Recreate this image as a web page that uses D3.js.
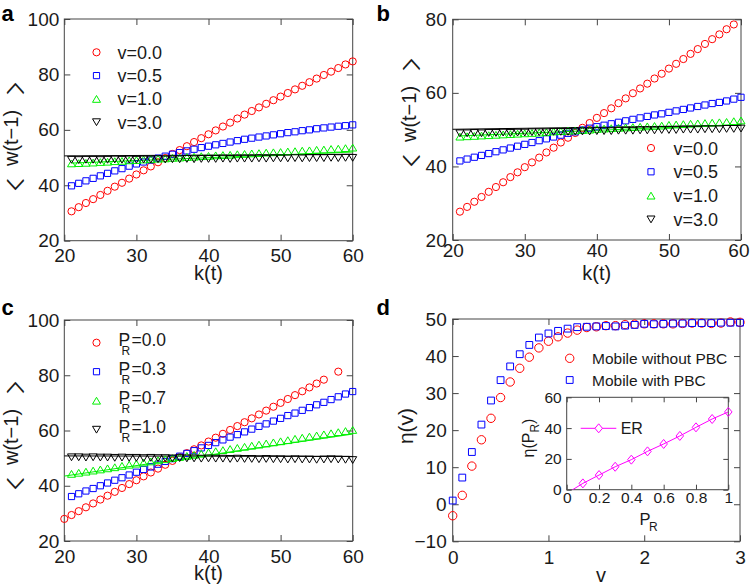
<!DOCTYPE html>
<html><head><meta charset="utf-8">
<script src="https://cdn.jsdelivr.net/npm/d3@7"></script>
<style>body{margin:0;background:#fff}</style>
</head><body>
<svg id="chart" width="750" height="588" xmlns="http://www.w3.org/2000/svg"></svg>
<script>
// ---------------- DATA ----------------
const kA = d3.range(21, 61);
const aV00 = [30.6,32.1,33.6,35.0,36.5,38.0,39.5,40.9,42.4,43.9,45.4,46.8,48.3,49.8,51.3,52.7,54.1,55.6,57.0,58.4,59.8,61.2,62.6,64.1,65.5,66.8,68.1,69.4,70.7,72.0,73.3,74.6,75.9,77.2,78.5,79.8,81.0,82.3,83.6,84.7];
const aV05 = [39.8,40.7,41.6,42.5,43.4,44.3,45.2,46.0,46.9,47.7,48.4,49.1,49.8,50.5,51.2,51.8,52.4,53.0,53.6,54.1,54.6,55.1,55.6,56.1,56.6,57.0,57.4,57.8,58.2,58.6,59.0,59.3,59.7,60.0,60.4,60.7,61.0,61.3,61.5,61.8];
const aV10 = [47.9,48.0,48.1,48.2,48.4,48.5,48.7,48.8,49.0,49.1,49.3,49.4,49.6,49.7,49.9,50.0,50.2,50.3,50.5,50.6,50.8,50.9,51.0,51.2,51.3,51.5,51.6,51.8,51.9,52.0,52.2,52.3,52.5,52.6,52.8,52.9,53.1,53.2,53.4,53.6];
const aV30 = [49.2,49.1,49.2,49.2,49.1,49.2,49.3,49.2,49.3,49.2,49.3,49.3,49.4,49.3,49.4,49.4,49.5,49.4,49.5,49.5,49.5,49.6,49.5,49.6,49.6,49.6,49.7,49.6,49.7,49.7,49.7,49.8,49.7,49.8,49.8,49.8,49.9,49.8,49.9,49.9];
const aFitK = [20, 60];
const aFit30 = [50.6, 51.2];
const aFitK10 = [21, 60];
const aFit10 = [48.0, 52.0];

const kB = d3.range(21, 61);
const kB00 = d3.range(21, 60);
const bV00 = [27.7,29.0,30.4,31.7,33.1,34.4,35.7,37.1,38.4,39.8,41.1,42.4,43.8,45.1,46.5,47.8,49.1,50.5,51.8,53.2,54.5,55.8,57.2,58.5,59.9,61.2,62.5,63.9,65.2,66.6,67.9,69.2,70.6,71.9,73.3,74.6,75.9,77.3,78.6];
const bV05 = [41.5,42.0,42.5,43.0,43.5,44.0,44.5,45.0,45.5,46.0,46.5,47.0,47.5,48.0,48.5,49.0,49.4,49.9,50.4,50.8,51.2,51.6,52.0,52.4,52.8,53.2,53.6,54.0,54.3,54.7,55.1,55.5,55.9,56.3,56.7,57.1,57.4,57.8,58.3,58.8];
const bV10 = [48.1,48.2,48.3,48.4,48.5,48.6,48.7,48.8,48.9,49.0,49.1,49.2,49.3,49.5,49.6,49.7,49.8,49.9,50.0,50.2,50.3,50.4,50.5,50.6,50.7,50.8,50.9,51.0,51.1,51.3,51.4,51.5,51.6,51.7,51.8,51.9,52.0,52.1,52.3,52.5];
const bV30 = [49.0,49.0,49.1,49.0,49.1,49.1,49.2,49.1,49.2,49.2,49.3,49.3,49.3,49.4,49.4,49.4,49.5,49.5,49.5,49.6,49.6,49.6,49.7,49.7,49.7,49.8,49.8,49.8,49.9,49.9,49.9,50.0,50.0,50.0,50.1,50.1,50.1,50.2,50.2,50.3];
const bFitK = [20, 60];
const bFit30 = [50.1, 51.2];
const bFitK10 = [21, 60];
const bFit10 = [48.3, 51.4];

const kC00 = [20,21,22,23,24,25,26,27,28,29,30,31,32,33,34,35,36,37,38,39,40,41,42,43,44,45,46,47,48,49,50,51,52,53,54,55,56,58];
const cP00 = [28.0,29.4,30.8,32.2,33.6,35.0,36.4,37.8,39.2,40.6,42.0,43.4,44.8,46.2,47.6,49.0,50.4,51.8,53.2,54.6,56.0,57.4,58.8,60.2,61.6,63.0,64.4,65.8,67.2,68.6,70.0,71.4,72.8,74.2,75.6,77.0,78.4,81.3];
const kC = d3.range(21, 61);
const cP03 = [36.1,37.1,38.1,39.0,40.0,41.0,42.0,42.9,43.9,44.9,45.9,46.8,47.8,48.8,49.8,50.7,51.7,52.7,53.7,54.6,55.6,56.6,57.6,58.5,59.5,60.5,61.5,62.4,63.4,64.4,65.4,66.3,67.3,68.3,69.3,70.2,71.2,72.2,73.2,74.1];
const cP07 = [44.3,44.7,45.1,45.5,45.9,46.3,46.7,47.2,47.6,48.0,48.4,48.8,49.2,49.6,50.0,50.4,50.8,51.2,51.6,52.1,52.5,52.9,53.3,53.7,54.1,54.5,54.9,55.3,55.7,56.1,56.5,57.0,57.4,57.8,58.2,58.6,59.0,59.4,59.8,60.2];
const cP10 = [50.3,50.3,50.2,50.3,50.2,50.2,50.1,50.2,50.1,50.1,50.0,50.1,50.0,50.0,49.9,50.0,49.9,49.9,49.8,49.9,49.8,49.8,49.7,49.8,49.7,49.7,49.6,49.7,49.6,49.6,49.5,49.6,49.5,49.5,49.4,49.5,49.6,49.5,49.4,49.3];
const cFitK = [20, 60];
const cFit10 = [50.8, 50.6];
const cFit07 = [43.5, 58.7];

const vD = [0,0.1,0.2,0.3,0.4,0.5,0.6,0.7,0.8,0.9,1.0,1.1,1.2,1.3,1.4,1.5,1.6,1.7,1.8,1.9,2.0,2.1,2.2,2.3,2.4,2.5,2.6,2.7,2.8,2.9,3.0];
const dNoPBC = [-3.1,2.4,10.3,17.4,23.2,28.8,33.0,36.7,39.7,42.2,44.0,45.2,46.2,47.0,47.7,47.9,48.2,48.2,48.5,48.6,48.7,48.7,48.7,48.7,48.8,48.9,48.9,48.8,48.9,49.2,49.1];
const dPBC = [1.0,7.2,14.1,21.5,28.0,33.5,37.2,40.5,43.0,45.0,46.1,46.8,47.4,47.8,47.9,48.0,48.1,48.0,48.2,48.4,48.7,48.6,48.7,48.8,48.8,48.9,48.9,48.9,49.0,49.0,49.0];

const pInset = [0,0.1,0.2,0.3,0.4,0.5,0.6,0.7,0.8,0.9,1.0];
const erInset = [-2.4,4.1,9.5,14.9,19.5,24.9,29.7,34.9,40.5,45.9,50.5];

const legAB = ['v=0.0','v=0.5','v=1.0','v=3.0'];
const legC = ['0.0','0.3','0.7','1.0'];
const legD = ['Mobile without PBC','Mobile with PBC'];

// ---------------- STYLE ----------------
const FONT = 'Liberation Sans, Arial, Helvetica, sans-serif';
const FRAME = '#444';
const RED = '#ff0000', BLUE = '#0000ff', GREEN = '#00f000', BLACK = '#000', MAG = '#ff00ff';
const TICKF = 19;

const svg = d3.select('#chart');

function shapePath(type, s) {
  if (type === 'circle') { const r = s.r; return `M${-r},0A${r},${r} 0 1,0 ${r},0A${r},${r} 0 1,0 ${-r},0Z`; }
  if (type === 'square') { const h = s.a/2; return `M${-h},${-h}H${h}V${h}H${-h}Z`; }
  if (type === 'up') return `M0,${-s.h/2}L${s.w/2},${s.h/2}L${-s.w/2},${s.h/2}Z`;
  if (type === 'down') return `M0,${s.h/2}L${s.w/2},${-s.h/2}L${-s.w/2},${-s.h/2}Z`;
  if (type === 'diamond') return `M0,${-s.h/2}L${s.w/2},0L0,${s.h/2}L${-s.w/2},0Z`;
}
const SZ = {circle:{r:3.6}, square:{a:6.2}, up:{w:8,h:6.8}, down:{w:8,h:6.8}, diamond:{w:7.5,h:9}};
const SZD = {circle:{r:4.2}, square:{a:6.8}};

function makePanel(p) {
  const x = d3.scaleLinear().domain(p.xDom).range([p.left, p.right]);
  const y = d3.scaleLinear().domain(p.yDom).range([p.bottom, p.top]);
  const g = svg.append('g');
  if (p.bg) g.append('rect').attr('x', p.left).attr('y', p.top)
      .attr('width', p.right - p.left).attr('height', p.bottom - p.top).attr('fill', '#fff');
  const tl = p.tickLen || 6;
  const ax = (gen, tx, ty, vals, fmt, pad) => {
    const a = g.append('g').attr('transform', `translate(${tx},${ty})`)
      .call(gen.tickValues(vals).tickSize(-tl).tickPadding(pad).tickFormat(fmt));
    a.select('.domain').remove();
    a.attr('font-family', FONT).attr('font-size', p.tickFont);
    a.selectAll('line').attr('stroke', FRAME).attr('stroke-width', 1);
    a.selectAll('text').attr('fill', '#1a1a1a');
    return a;
  };
  const bx = ax(d3.axisBottom(x), 0, p.bottom, p.xTicks, p.xFmt, p.xPad);
  if (p.lastEnd) bx.selectAll('.tick').filter(d => d === p.xTicks[p.xTicks.length - 1])
      .select('text').attr('text-anchor', 'end').attr('x', p.lastEnd);
  ax(d3.axisTop(x), 0, p.top, p.xTicks, () => '', 0);
  ax(d3.axisLeft(y), p.left, 0, p.yTicks, p.yFmt, p.yPad);
  ax(d3.axisRight(y), p.right, 0, p.yTicks, () => '', 0);
  g.append('rect').attr('x', p.left).attr('y', p.top)
    .attr('width', p.right - p.left).attr('height', p.bottom - p.top)
    .attr('fill', 'none').attr('stroke', FRAME).attr('stroke-width', 1);
  return {x, y, g};
}

function markers(P, xs, ys, type, color, sz) {
  P.g.append('g').selectAll('path').data(xs.map((d, i) => [d, ys[i]])).join('path')
    .attr('transform', d => `translate(${P.x(d[0])},${P.y(d[1])})`)
    .attr('d', shapePath(type, sz[type]))
    .attr('fill', 'none').attr('stroke', color).attr('stroke-width', 1);
}
function fitLine(P, xs, ys, color) {
  P.g.append('path').datum(xs.map((d, i) => [d, ys[i]]))
    .attr('d', d3.line().x(d => P.x(d[0])).y(d => P.y(d[1])))
    .attr('fill', 'none').attr('stroke', color).attr('stroke-width', 1);
}
function txt(x, y, s, size, opts = {}) {
  const t = svg.append('text').attr('x', x).attr('y', y).attr('font-family', opts.family || FONT)
    .attr('font-size', size).attr('fill', opts.fill || '#1a1a1a').text(s);
  if (opts.anchor) t.attr('text-anchor', opts.anchor);
  if (opts.weight) t.attr('font-weight', opts.weight);
  if (opts.rotate) t.attr('transform', `rotate(-90,${x},${y})`);
  return t;
}
function bracket(bx, by, ch) {
  svg.append('text').attr('transform', `translate(${bx},${by}) rotate(-90) scale(1.7,1)`)
    .attr('x', 0).attr('y', 0).attr('text-anchor', 'middle')
    .attr('font-family', 'Noto Sans CJK SC').attr('font-size', 18.5).attr('fill', '#1a1a1a').text(ch);
}
function yLabelW(bx, cy, brx) {
  bracket(brx, cy + 50 + 6.5, '\u3008');
  txt(bx, cy + 1.5, 'w(t\u22121)', 20, {anchor: 'middle', rotate: true});
  bracket(brx, cy - 50 - 6.5, '\u3009');
}

const TYPES = ['circle', 'square', 'up', 'down'];
const COLS = [RED, BLUE, GREEN, BLACK];

// ---------------- PANEL A ----------------
const A = makePanel({left: 64.3, right: 352.7, top: 19, bottom: 240.7, xDom: [20, 60], yDom: [20, 100],
  xTicks: [20, 30, 40, 50, 60], yTicks: [20, 40, 60, 80, 100], xFmt: d3.format('d'), yFmt: d3.format('d'),
  xPad: 8, yPad: 5, tickFont: TICKF});
fitLine(A, aFitK, aFit30, BLACK);
fitLine(A, aFitK10, aFit10, GREEN);
[aV00, aV05, aV10, aV30].forEach((s, i) => markers(A, kA, s, TYPES[i], COLS[i], SZ));
legAB.forEach((l, i) => {
  const yy = 52.3 + i * 23.3;
  svg.append('path').attr('transform', `translate(96.5,${yy})`).attr('d', shapePath(TYPES[i], SZ[TYPES[i]]))
    .attr('fill', 'none').attr('stroke', COLS[i]);
  txt(117.5, yy + 6.5, l, 18);
});
txt(208.5, 279.5, 'k(t)', 20, {anchor: 'middle'});
yLabelW(18, 136.5, 21.5);
txt(1.5, 20.7, 'a', 22, {weight: 'bold', fill: '#000'});

// ---------------- PANEL B ----------------
const B = makePanel({left: 452.7, right: 741, top: 19.3, bottom: 240, xDom: [20, 60], yDom: [20, 80],
  xTicks: [20, 30, 40, 50, 60], yTicks: [20, 40, 60, 80], xFmt: d3.format('d'), yFmt: d3.format('d'),
  xPad: 3.5, yPad: 6, tickFont: TICKF, lastEnd: 8});
fitLine(B, bFitK, bFit30, BLACK);
fitLine(B, bFitK10, bFit10, GREEN);
markers(B, kB00, bV00, 'circle', RED, SZ);
[bV05, bV10, bV30].forEach((s, i) => markers(B, kB, s, TYPES[i + 1], COLS[i + 1], SZ));
legAB.forEach((l, i) => {
  const yy = 148 + i * 23.8;
  svg.append('path').attr('transform', `translate(651,${yy})`).attr('d', shapePath(TYPES[i], SZ[TYPES[i]]))
    .attr('fill', 'none').attr('stroke', COLS[i]);
  txt(673.5, yy + 6.5, l, 18);
});
txt(596.8, 279.5, 'k(t)', 20, {anchor: 'middle'});
yLabelW(416, 112.5, 418);
txt(376.5, 20.7, 'b', 22, {weight: 'bold', fill: '#000'});

// ---------------- PANEL C ----------------
const C = makePanel({left: 64.3, right: 352.7, top: 320, bottom: 541, xDom: [20, 60], yDom: [20, 100],
  xTicks: [20, 30, 40, 50, 60], yTicks: [20, 40, 60, 80, 100], xFmt: d3.format('d'), yFmt: d3.format('d'),
  xPad: 9, yPad: 5, tickFont: TICKF});
fitLine(C, cFitK, cFit10, BLACK);
fitLine(C, cFitK, cFit07, GREEN);
markers(C, kC00, cP00, 'circle', RED, SZ);
[cP03, cP07, cP10].forEach((s, i) => markers(C, kC, s, TYPES[i + 1], COLS[i + 1], SZ));
legC.forEach((l, i) => {
  const yy = 342.7 + i * 29;
  svg.append('path').attr('transform', `translate(96.5,${yy})`).attr('d', shapePath(TYPES[i], SZ[TYPES[i]]))
    .attr('fill', 'none').attr('stroke', COLS[i]);
  const t = svg.append('text').attr('font-family', FONT).attr('font-size', 17.5).attr('fill', '#1a1a1a');
  t.append('tspan').attr('x', 118.5).attr('y', yy + 2.8).text('P');
  t.append('tspan').attr('x', 121.5).attr('y', yy + 12.2).attr('font-size', 12).text('R');
  t.append('tspan').attr('x', 131.5).attr('y', yy + 2.8).text('=' + l);
});
txt(208.5, 580, 'k(t)', 20, {anchor: 'middle'});
yLabelW(18, 435.5, 21.5);
txt(1.5, 314.7, 'c', 22, {weight: 'bold', fill: '#000'});

// ---------------- PANEL D ----------------
const D = makePanel({left: 452.7, right: 740, top: 319, bottom: 541.3, xDom: [0, 3], yDom: [-10, 50],
  xTicks: [0, 1, 2, 3], yTicks: [-10, 0, 10, 20, 30, 40, 50], xFmt: d3.format('d'), yFmt: d3.format('d'),
  xPad: 9, yPad: 6, tickFont: TICKF});
markers(D, vD, dNoPBC, 'circle', RED, SZD);
markers(D, vD, dPBC, 'square', BLUE, SZD);
legD.forEach((l, i) => {
  const yy = 358.3 + i * 21.7;
  svg.append('path').attr('transform', `translate(569.7,${yy})`).attr('d', shapePath(i ? 'square' : 'circle', SZD[i ? 'square' : 'circle']))
    .attr('fill', 'none').attr('stroke', i ? BLUE : RED);
  txt(592, yy + 5.5, l, 15.5);
});
txt(601, 582, 'v', 20, {anchor: 'middle'});
{
  const t = svg.append('text').attr('font-family', FONT).attr('font-size', 21).attr('fill', '#1a1a1a')
    .attr('text-anchor', 'middle').attr('transform', 'rotate(-90,413,426)').attr('x', 413).attr('y', 426);
  t.text('\u03B7(v)');
}
txt(376.5, 314.7, 'd', 22, {weight: 'bold', fill: '#000'});

// ---------------- INSET ----------------
const I = makePanel({left: 566.7, right: 728.3, top: 397.3, bottom: 489.7, xDom: [0, 1], yDom: [0, 60],
  xTicks: [0, 0.2, 0.4, 0.6, 0.8, 1], yTicks: [0, 20, 40, 60], xFmt: d => String(d), yFmt: d3.format('d'),
  xPad: 2.5, yPad: 5, tickFont: 15.5, tickLen: 5, bg: true});
svg.append('clipPath').attr('id', 'insetClip').append('rect')
  .attr('x', 566.7).attr('y', 397.3).attr('width', 161.6).attr('height', 92.4);
I.g.append('path').datum(pInset.map((d, i) => [d, erInset[i]]))
  .attr('clip-path', 'url(#insetClip)')
  .attr('d', d3.line().x(d => I.x(d[0])).y(d => I.y(d[1])))
  .attr('fill', 'none').attr('stroke', MAG).attr('stroke-width', 1);
I.g.append('g').selectAll('path').data(pInset.map((d, i) => [d, erInset[i]]).filter(d => d[1] >= 0)).join('path')
  .attr('transform', d => `translate(${I.x(d[0])},${I.y(d[1])})`)
  .attr('d', shapePath('diamond', SZ.diamond)).attr('fill', 'none').attr('stroke', MAG);
svg.append('line').attr('x1', 580.7).attr('x2', 616.3).attr('y1', 428.3).attr('y2', 428.3).attr('stroke', MAG);
svg.append('path').attr('transform', 'translate(598.7,428.3)').attr('d', shapePath('diamond', SZ.diamond))
  .attr('fill', '#fff').attr('stroke', MAG);
txt(620.7, 434, 'ER', 16);
{
  const t = svg.append('text').attr('font-family', FONT).attr('font-size', 16.5).attr('fill', '#1a1a1a');
  t.append('tspan').attr('x', 639.5).attr('y', 525).text('P');
  t.append('tspan').attr('x', 649).attr('y', 531).attr('font-size', 12).text('R');
}
{
  const t = svg.append('text').attr('font-family', FONT).attr('font-size', 16).attr('fill', '#1a1a1a')
    .attr('transform', 'rotate(-90,534,438)').attr('x', 534).attr('y', 438).attr('text-anchor', 'middle');
  t.append('tspan').text('\u03B7(P');
  t.append('tspan').attr('font-size', 12).attr('dy', 5).text('R');
  t.append('tspan').attr('dy', -5).text(')');
}
</script></body></html>
